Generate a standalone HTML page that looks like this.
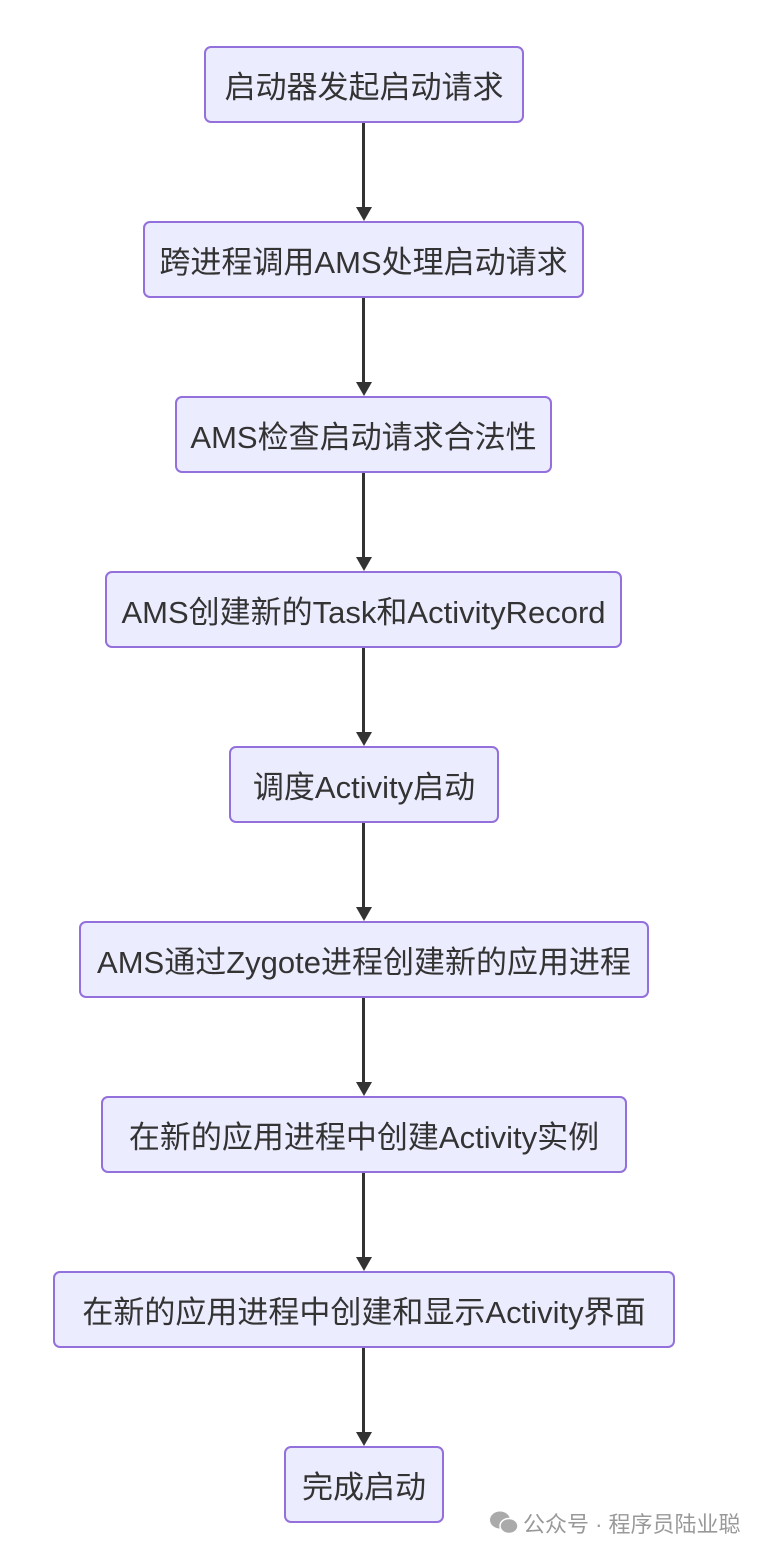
<!DOCTYPE html>
<html><head><meta charset="utf-8"><style>
body{margin:0;width:766px;height:1554px;background:#fff;position:relative;overflow:hidden;font-family:"Liberation Sans","Noto Sans CJK SC",sans-serif;}
.b{position:absolute;height:73px;background:#ECECFF;border:2px solid #9370DB;border-radius:7px;box-sizing:content-box;display:flex;align-items:center;justify-content:center;font-size:31px;color:#333;white-space:nowrap;}
.l{position:absolute;left:362px;width:3px;background:#333;}
.a{position:absolute;left:356px;width:0;height:0;border-left:8px solid transparent;border-right:8px solid transparent;border-top:14px solid #333;}
.wm{position:absolute;left:523px;top:1507px;font-size:22px;color:#999;white-space:nowrap;}
</style></head><body>
<div class="b" style="left:204px;top:46px;width:316px">启动器发起启动请求</div>
<div class="b" style="left:143px;top:221px;width:437px">跨进程调用AMS处理启动请求</div>
<div class="b" style="left:175px;top:396px;width:373px">AMS检查启动请求合法性</div>
<div class="b" style="left:105px;top:571px;width:513px">AMS创建新的Task和ActivityRecord</div>
<div class="b" style="left:229px;top:746px;width:266px">调度Activity启动</div>
<div class="b" style="left:79px;top:921px;width:566px">AMS通过Zygote进程创建新的应用进程</div>
<div class="b" style="left:101px;top:1096px;width:522px">在新的应用进程中创建Activity实例</div>
<div class="b" style="left:53px;top:1271px;width:618px">在新的应用进程中创建和显示Activity界面</div>
<div class="b" style="left:284px;top:1446px;width:156px">完成启动</div>

<div class="l" style="top:123px;height:88px"></div><div class="a" style="top:207px"></div>
<div class="l" style="top:298px;height:88px"></div><div class="a" style="top:382px"></div>
<div class="l" style="top:473px;height:88px"></div><div class="a" style="top:557px"></div>
<div class="l" style="top:648px;height:88px"></div><div class="a" style="top:732px"></div>
<div class="l" style="top:823px;height:88px"></div><div class="a" style="top:907px"></div>
<div class="l" style="top:998px;height:88px"></div><div class="a" style="top:1082px"></div>
<div class="l" style="top:1173px;height:88px"></div><div class="a" style="top:1257px"></div>
<div class="l" style="top:1348px;height:88px"></div><div class="a" style="top:1432px"></div>

<svg style="position:absolute;left:489px;top:1510px" width="30" height="26" viewBox="0 0 30 26">
<ellipse cx="11" cy="10" rx="10" ry="8.5" fill="#aaa"/>
<ellipse cx="20" cy="16" rx="9" ry="7.5" fill="#aaa" stroke="#fff" stroke-width="1.5"/>
</svg>
<div class="wm">公众号 · 程序员陆业聪</div>
</body></html>
